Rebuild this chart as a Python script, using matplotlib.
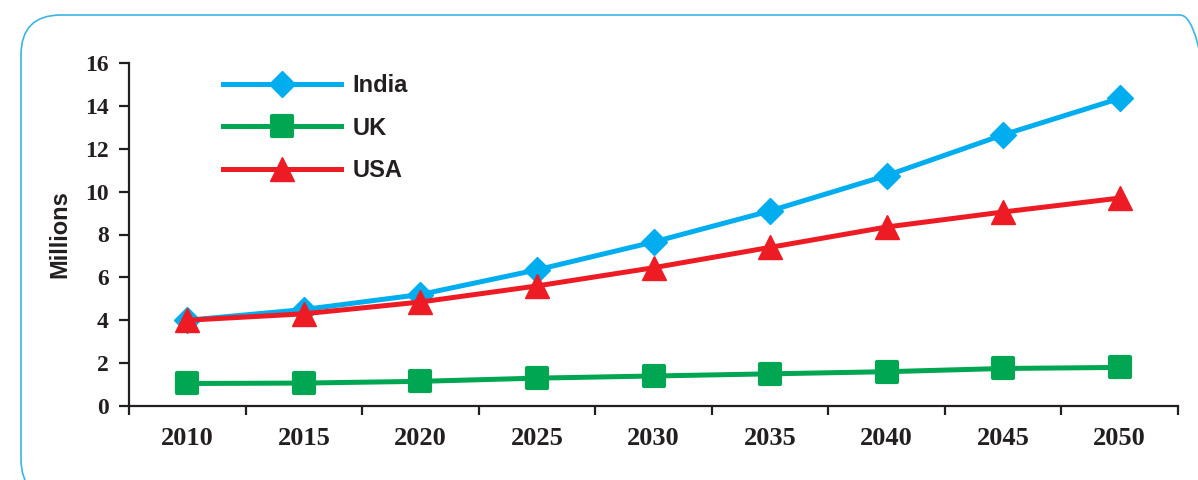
import numpy as np
import matplotlib
matplotlib.use("Agg")
import matplotlib.pyplot as plt
from matplotlib.patches import FancyBboxPatch
from matplotlib.transforms import IdentityTransform
from matplotlib.markers import MarkerStyle


years = ["2010", "2015", "2020", "2025", "2030", "2035", "2040", "2045", "2050"]
india = [4.0, 4.5, 5.2, 6.35, 7.65, 9.1, 10.75, 12.65, 14.35]
uk = [1.05, 1.07, 1.15, 1.3, 1.4, 1.5, 1.6, 1.75, 1.8]
usa = [4.0, 4.3, 4.85, 5.6, 6.45, 7.4, 8.35, 9.05, 9.7]
yticks = [0, 2, 4, 6, 8, 10, 12, 14, 16]

TXT = "#231F20"
C_INDIA = "#00AEEF"
C_UK = "#00A651"
C_USA = "#ED1C24"

fig = plt.figure(figsize=(11.98, 4.8), dpi=100)
ax = fig.add_axes([129 / 1198, 74 / 480, 1049 / 1198, 343 / 480])

# rounded frame round the chart (runs off the right and bottom edges)
frame = FancyBboxPatch((21, -19), 1199, 484, boxstyle="round,pad=0,rounding_size=40",
                       transform=IdentityTransform(), fill=False,
                       edgecolor="#3BB4E6", linewidth=1.2, clip_on=False)
fig.patches.append(frame)

x = np.arange(len(years))
ax.plot(x, india, color=C_INDIA, lw=3.6, marker="D", ms=13,
        mec=C_INDIA, label="India", zorder=3)
ax.plot(x, uk, color=C_UK, lw=3.6, marker=MarkerStyle("s", joinstyle="round"), ms=15,
        mec=C_UK, mew=3, label="UK", zorder=3)
ax.plot(x, usa, color=C_USA, lw=3.6, marker="^", ms=17,
        mec=C_USA, label="USA", zorder=4)

ax.set_xlim(-0.5, len(years) - 0.5)
ax.set_ylim(0, 16)

# tick marks between categories, labels at the centres
ax.set_xticks(np.arange(-0.5, len(years)), labels=[])
ax.set_xticks(x, labels=years, minor=True)
ax.tick_params(axis="x", which="major", direction="out", length=6.5, width=1.6, color=TXT)
ax.tick_params(axis="x", which="minor", length=0, pad=15)
ax.set_yticks(yticks)
ax.tick_params(axis="y", direction="out", length=7.5, width=1.6, color=TXT, pad=7)

for lab in ax.get_xticklabels(minor=True):
    lab.set_fontfamily("Liberation Serif")
    lab.set_fontweight("bold")
    lab.set_fontsize(19)
    lab.set_color(TXT)
for lab in ax.get_yticklabels():
    lab.set_fontfamily("Liberation Serif")
    lab.set_fontweight("bold")
    lab.set_fontsize(17)
    lab.set_color(TXT)

for side in ["top", "right"]:
    ax.spines[side].set_visible(False)
for side in ["left", "bottom"]:
    ax.spines[side].set_linewidth(1.6)
    ax.spines[side].set_color(TXT)

ax.set_ylabel("Millions", fontfamily="Liberation Sans", fontweight="bold",
              fontsize=17, color=TXT, labelpad=10)

leg = ax.legend(loc="upper left", bbox_to_anchor=(0.0896, 0.967), frameon=False,
                borderpad=0, borderaxespad=0, handlelength=5.0, handletextpad=0.5,
                labelspacing=0.82, prop={"family": "Liberation Sans", "weight": "bold", "size": 17})
for t in leg.get_texts():
    t.set_color(TXT)

fig.savefig("out.png", dpi=100)
